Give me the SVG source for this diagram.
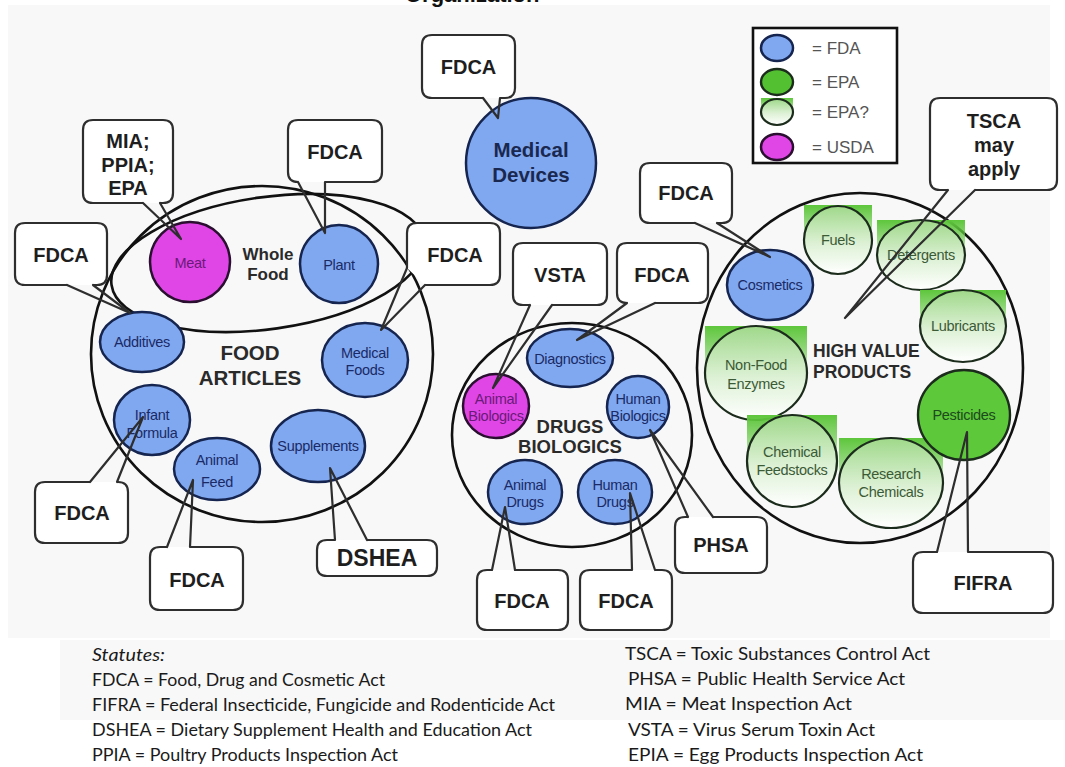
<svg xmlns="http://www.w3.org/2000/svg" width="1065" height="767" viewBox="0 0 1065 767">
<defs>
<linearGradient id="sq" x1="0" y1="0" x2="0" y2="1">
<stop offset="0" stop-color="#5ec63c" stop-opacity="1"/>
<stop offset="0.3" stop-color="#5ec63c" stop-opacity="0.6"/>
<stop offset="0.55" stop-color="#5ec63c" stop-opacity="0"/>
</linearGradient>
<linearGradient id="gc" x1="0" y1="0" x2="0" y2="1">
<stop offset="0" stop-color="#9fd88a"/>
<stop offset="0.55" stop-color="#ddf1d5"/>
<stop offset="1" stop-color="#ffffff"/>
</linearGradient>
<style>
.bg{fill:#f8f8f8}
.big{fill:none;stroke:#111;stroke-width:2.6}
.blue{fill:#80a8f0;stroke:#15254f;stroke-width:2.5}
.mag{fill:#e046e6;stroke:#2a0f30;stroke-width:2.5}
.grn{fill:#5cc83a;stroke:#1c2c1c;stroke-width:2.4}
.gq{fill:url(#gc);stroke:#1c2c1c;stroke-width:2.2}
.sqr{fill:url(#sq)}
.co{fill:#fff;stroke:#2e2e2e;stroke-width:2.2;stroke-linejoin:round}
.tail{fill:none;stroke:#2e2e2e;stroke-width:2.2;stroke-linejoin:round;stroke-linecap:round}
.ct{font-family:"Liberation Sans",Arial,sans-serif;font-weight:bold;font-size:20px;fill:#1e1e1e;text-anchor:middle}
.nt{font-family:"Liberation Sans",Arial,sans-serif;font-size:14.5px;fill:#1a2a66;text-anchor:middle;letter-spacing:-0.3px}
.mt{font-family:"Liberation Sans",Arial,sans-serif;font-size:14.5px;fill:#6a1a78;text-anchor:middle;letter-spacing:-0.3px}
.gt{font-family:"Liberation Sans",Arial,sans-serif;font-size:14.5px;fill:#3b5a36;text-anchor:middle;letter-spacing:-0.3px}
.lab{font-family:"Liberation Sans",Arial,sans-serif;font-weight:bold;fill:#2a2a2a;text-anchor:middle}
.leg{font-family:"Liberation Sans",Arial,sans-serif;font-size:17px;fill:#555}
.st{font-family:Lato,"Open Sans",sans-serif;font-size:17px;fill:#1a1a1a}
</style>
</defs>
<rect width="1065" height="767" fill="#fff"/>
<rect class="bg" x="8" y="5" width="1042" height="633"/>
<rect class="bg" x="60" y="640" width="1005" height="80"/>
<text x="405" y="1.5" style="font-family:'Liberation Sans',Arial,sans-serif;font-weight:bold;font-size:22px;fill:#111">Organization</text>

<g id="food-articles">
<ellipse class="big" cx="262" cy="354" rx="171" ry="168"/>
<text class="lab" x="250" y="360" font-size="20.5">FOOD</text>
<text class="lab" x="250" y="385" font-size="20.5">ARTICLES</text>
</g>
<g id="whole-food">
<ellipse class="big" cx="268" cy="263" rx="158" ry="66" transform="rotate(-8 268 263)"/>
<text class="lab" x="268" y="260" font-size="17">Whole</text>
<text class="lab" x="268" y="280" font-size="17">Food</text>
</g>
<g id="drugs-biologics">
<ellipse class="big" cx="572" cy="435" rx="120" ry="112"/>
<text class="lab" x="570" y="433" font-size="18.5">DRUGS</text>
<text class="lab" x="570" y="453" font-size="18.5">BIOLOGICS</text>
</g>
<g id="high-value-products">
<ellipse class="big" cx="860" cy="368" rx="163" ry="175"/>
<text class="lab" x="813" y="357" font-size="17.5" style="text-anchor:start">HIGH VALUE</text>
<text class="lab" x="813" y="378" font-size="17.5" style="text-anchor:start">PRODUCTS</text>
</g>

<g id="meat"><circle class="mag" cx="190" cy="262" r="40"/><text class="mt" x="190" y="268" font-size="17">Meat</text></g>
<g id="plant"><circle class="blue" cx="339" cy="264" r="39"/><text class="nt" x="339" y="270" font-size="17">Plant</text></g>
<g id="additives"><ellipse class="blue" cx="142" cy="342" rx="42" ry="30"/><text class="nt" x="142" y="347">Additives</text></g>
<g id="medical-foods"><ellipse class="blue" cx="365" cy="360" rx="43" ry="37"/><text class="nt" x="365" y="358">Medical</text><text class="nt" x="365" y="375">Foods</text></g>
<g id="infant-formula"><ellipse class="blue" cx="152" cy="420" rx="38" ry="35"/><text class="nt" x="152" y="420">Infant</text><text class="nt" x="152" y="438">Formula</text></g>
<g id="animal-feed"><ellipse class="blue" cx="217" cy="469" rx="43" ry="31"/><text class="nt" x="217" y="465" font-size="17">Animal</text><text class="nt" x="217" y="487" font-size="17">Feed</text></g>
<g id="supplements"><ellipse class="blue" cx="318" cy="446" rx="47" ry="36"/><text class="nt" x="318" y="451" font-size="13.5">Supplements</text></g>
<g id="medical-devices"><circle class="blue" cx="531" cy="163" r="65"/><text class="lab" x="531" y="157" font-size="20.5" style="fill:#1a2850">Medical</text><text class="lab" x="531" y="182" font-size="20.5" style="fill:#1a2850">Devices</text></g>
<g id="diagnostics"><ellipse class="blue" cx="570" cy="358" rx="43" ry="29"/><text class="nt" x="570" y="364">Diagnostics</text></g>
<g id="animal-biologics"><ellipse class="mag" cx="496" cy="406" rx="33" ry="32"/><text class="mt" x="496" y="404" font-size="13.5">Animal</text><text class="mt" x="496" y="421" font-size="13.5">Biologics</text></g>
<g id="human-biologics"><ellipse class="blue" cx="638" cy="407" rx="31" ry="31"/><text class="nt" x="638" y="404" font-size="13.5">Human</text><text class="nt" x="638" y="421" font-size="13.5">Biologics</text></g>
<g id="animal-drugs"><ellipse class="blue" cx="525" cy="492" rx="37" ry="32"/><text class="nt" x="525" y="490">Animal</text><text class="nt" x="525" y="507">Drugs</text></g>
<g id="human-drugs"><ellipse class="blue" cx="615" cy="492" rx="37" ry="32"/><text class="nt" x="615" y="490">Human</text><text class="nt" x="615" y="507">Drugs</text></g>
<g id="cosmetics"><ellipse class="blue" cx="770" cy="285" rx="43" ry="35"/><text class="nt" x="770" y="290">Cosmetics</text></g>
<g id="fuels"><rect class="sqr" x="804" y="205" width="68" height="70"/><circle class="gq" cx="838" cy="240" r="34"/><text class="gt" x="838" y="245">Fuels</text></g>
<g id="detergents"><rect class="sqr" x="877" y="220" width="88" height="70"/><ellipse class="gq" cx="921" cy="255" rx="44" ry="35"/><text class="gt" x="921" y="260">Detergents</text></g>
<g id="lubricants"><rect class="sqr" x="920" y="290" width="86" height="72"/><ellipse class="gq" cx="963" cy="326" rx="43" ry="36"/><text class="gt" x="963" y="331">Lubricants</text></g>
<g id="non-food-enzymes"><rect class="sqr" x="705" y="326" width="102" height="94"/><ellipse class="gq" cx="756" cy="373" rx="51" ry="47"/><text class="gt" x="756" y="370">Non-Food</text><text class="gt" x="756" y="389">Enzymes</text></g>
<g id="chemical-feedstocks"><rect class="sqr" x="747" y="415" width="90" height="92"/><ellipse class="gq" cx="792" cy="461" rx="45" ry="46"/><text class="gt" x="792" y="457">Chemical</text><text class="gt" x="792" y="475">Feedstocks</text></g>
<g id="research-chemicals"><rect class="sqr" x="839" y="438" width="104" height="90"/><ellipse class="gq" cx="891" cy="483" rx="52" ry="45"/><text class="gt" x="891" y="479">Research</text><text class="gt" x="891" y="497">Chemicals</text></g>
<g id="pesticides"><ellipse class="grn" cx="964" cy="415" rx="46" ry="45"/><text class="gt" x="964" y="420" style="fill:#1d4a1d">Pesticides</text></g>

<g id="legend">
<rect x="753" y="28" width="144" height="135" fill="#fff" stroke="#111" stroke-width="2.6"/>
<ellipse cx="777" cy="48" rx="16" ry="13" class="blue"/>
<ellipse cx="777" cy="82" rx="16" ry="13" class="grn" style="fill:#52c030"/>
<rect class="sqr" x="761" y="98" width="32" height="28"/>
<ellipse cx="777" cy="112" rx="16" ry="13" class="gq"/>
<ellipse cx="777" cy="147" rx="16" ry="13" class="mag"/>
<text class="leg" x="812" y="54">= FDA</text>
<text class="leg" x="812" y="88">= EPA</text>
<text class="leg" x="812" y="118">= EPA?</text>
<text class="leg" x="812" y="153">= USDA</text>
</g>

<g id="callout-meddev"><path class="co" d="M483 98 H432 Q422 98 422 88 V45 Q422 35 432 35 H505 Q515 35 515 45 V88 Q515 98 505 98 H500"/><text class="ct" x="468.5" y="74">FDCA</text></g>
<g id="callout-meat"><path class="co" d="M143 203 H93 Q83 203 83 193 V130 Q83 120 93 120 H163 Q173 120 173 130 V193 Q173 203 163 203 H160"/><text class="ct" x="128" y="148">MIA;</text><text class="ct" x="128" y="172">PPIA;</text><text class="ct" x="128" y="195">EPA</text></g>
<g id="callout-plant"><path class="co" d="M298 182 Q288 182 288 172 V130 Q288 120 298 120 H372 Q382 120 382 130 V172 Q382 182 372 182 H325"/><text class="ct" x="335" y="159">FDCA</text></g>
<g id="callout-additives"><path class="co" d="M67 285 H25 Q15 285 15 275 V233 Q15 223 25 223 H97 Q107 223 107 233 V275 Q107 285 97 285 H93"/><text class="ct" x="61" y="262">FDCA</text></g>
<g id="callout-medfoods"><path class="co" d="M407 268 V233 Q407 223 417 223 H490 Q500 223 500 233 V275 Q500 285 490 285 H425"/><text class="ct" x="455" y="262">FDCA</text></g>
<g id="callout-infant"><path class="co" d="M117 482 H118 Q128 482 128 492 V533 Q128 543 118 543 H45 Q35 543 35 533 V492 Q35 482 45 482 H90"/><text class="ct" x="82" y="520">FDCA</text></g>
<g id="callout-animalfeed"><path class="co" d="M190 547 H233 Q243 547 243 557 V600 Q243 610 233 610 H160 Q150 610 150 600 V557 Q150 547 160 547 H167"/><text class="ct" x="197" y="587">FDCA</text></g>
<g id="callout-dshea"><path class="co" d="M367 540 H427 Q437 540 437 550 V566 Q437 576 427 576 H327 Q317 576 317 566 V550 Q317 540 327 540 H335"/><text class="ct" x="377" y="566" style="font-size:23px">DSHEA</text></g>
<g id="callout-vsta"><path class="co" d="M530 305 H523 Q513 305 513 295 V253 Q513 243 523 243 H597 Q607 243 607 253 V295 Q607 305 597 305 H552"/><text class="ct" x="560" y="282">VSTA</text></g>
<g id="callout-diag"><path class="co" d="M627 303 Q617 303 617 293 V253 Q617 243 627 243 H698 Q708 243 708 253 V293 Q708 303 698 303 H655"/><text class="ct" x="662" y="282">FDCA</text></g>
<g id="callout-phsa"><path class="co" d="M713 517 H757 Q767 517 767 527 V563 Q767 573 757 573 H685 Q675 573 675 563 V527 Q675 517 685 517 H688"/><text class="ct" x="721" y="552">PHSA</text></g>
<g id="callout-animaldrugs"><path class="co" d="M515 570 H558 Q568 570 568 580 V620 Q568 630 558 630 H487 Q477 630 477 620 V580 Q477 570 487 570 H492"/><text class="ct" x="522" y="608">FDCA</text></g>
<g id="callout-humandrugs"><path class="co" d="M655 570 H662 Q672 570 672 580 V620 Q672 630 662 630 H590 Q580 630 580 620 V580 Q580 570 590 570 H632"/><text class="ct" x="626" y="608">FDCA</text></g>
<g id="callout-cosmetics"><path class="co" d="M695 223 H650 Q640 223 640 213 V173 Q640 163 650 163 H722 Q732 163 732 173 V213 Q732 223 722 223 H717"/><text class="ct" x="686" y="200">FDCA</text></g>
<g id="callout-tsca"><path class="co" d="M948 190 H940 Q930 190 930 180 V108 Q930 98 940 98 H1047 Q1057 98 1057 108 V180 Q1057 190 1047 190 H975"/><text class="ct" x="994" y="128">TSCA</text><text class="ct" x="994" y="152">may</text><text class="ct" x="994" y="176">apply</text></g>
<g id="callout-fifra"><path class="co" d="M968 552 H1043 Q1053 552 1053 562 V603 Q1053 613 1043 613 H923 Q913 613 913 603 V562 Q913 552 923 552 H937"/><text class="ct" x="983" y="590">FIFRA</text></g>

<g id="connectors">
<path class="tail" d="M483 98 L498 118 L500 98"/>
<path class="tail" d="M143 203 L181 239 L160 203"/>
<path class="tail" d="M298 182 L325 233 L325 182"/>
<path class="tail" d="M67 285 L130 313 L93 285"/>
<path class="tail" d="M407 268 L381 330 L425 285"/>
<path class="tail" d="M90 482 L143 417 L117 482"/>
<path class="tail" d="M167 547 L193 480 L190 547"/>
<path class="tail" d="M335 540 L330 468 L367 540"/>
<path class="tail" d="M530 305 L493 388 L552 305"/>
<path class="tail" d="M627 303 L577 340 L655 303"/>
<path class="tail" d="M688 517 L650 430 L713 517"/>
<path class="tail" d="M492 570 L505 507 L515 570"/>
<path class="tail" d="M632 570 L630 493 L655 570"/>
<path class="tail" d="M695 223 L770 257 L717 223"/>
<path class="tail" d="M948 190 L845 318 L975 190"/>
<path class="tail" d="M937 552 L967 432 L968 552"/>
</g>

<g id="statutes">
<text class="st" x="92" y="661" font-style="italic" textLength="73" lengthAdjust="spacingAndGlyphs">Statutes:</text>
<text class="st" x="92" y="686" textLength="293" lengthAdjust="spacingAndGlyphs">FDCA = Food, Drug and Cosmetic Act</text>
<text class="st" x="92" y="711" textLength="463" lengthAdjust="spacingAndGlyphs">FIFRA = Federal Insecticide, Fungicide and Rodenticide Act</text>
<text class="st" x="92" y="736" textLength="440" lengthAdjust="spacingAndGlyphs">DSHEA = Dietary Supplement Health and Education Act</text>
<text class="st" x="92" y="761" textLength="306" lengthAdjust="spacingAndGlyphs">PPIA = Poultry Products Inspection Act</text>
<text class="st" x="625" y="660" textLength="305" lengthAdjust="spacingAndGlyphs">TSCA = Toxic Substances Control Act</text>
<text class="st" x="628" y="685" textLength="277" lengthAdjust="spacingAndGlyphs">PHSA = Public Health Service Act</text>
<text class="st" x="625" y="710" textLength="227" lengthAdjust="spacingAndGlyphs">MIA = Meat Inspection Act</text>
<text class="st" x="628" y="736" textLength="247" lengthAdjust="spacingAndGlyphs">VSTA = Virus Serum Toxin Act</text>
<text class="st" x="628" y="761" textLength="295" lengthAdjust="spacingAndGlyphs">EPIA = Egg Products Inspection Act</text>
</g>
</svg>
